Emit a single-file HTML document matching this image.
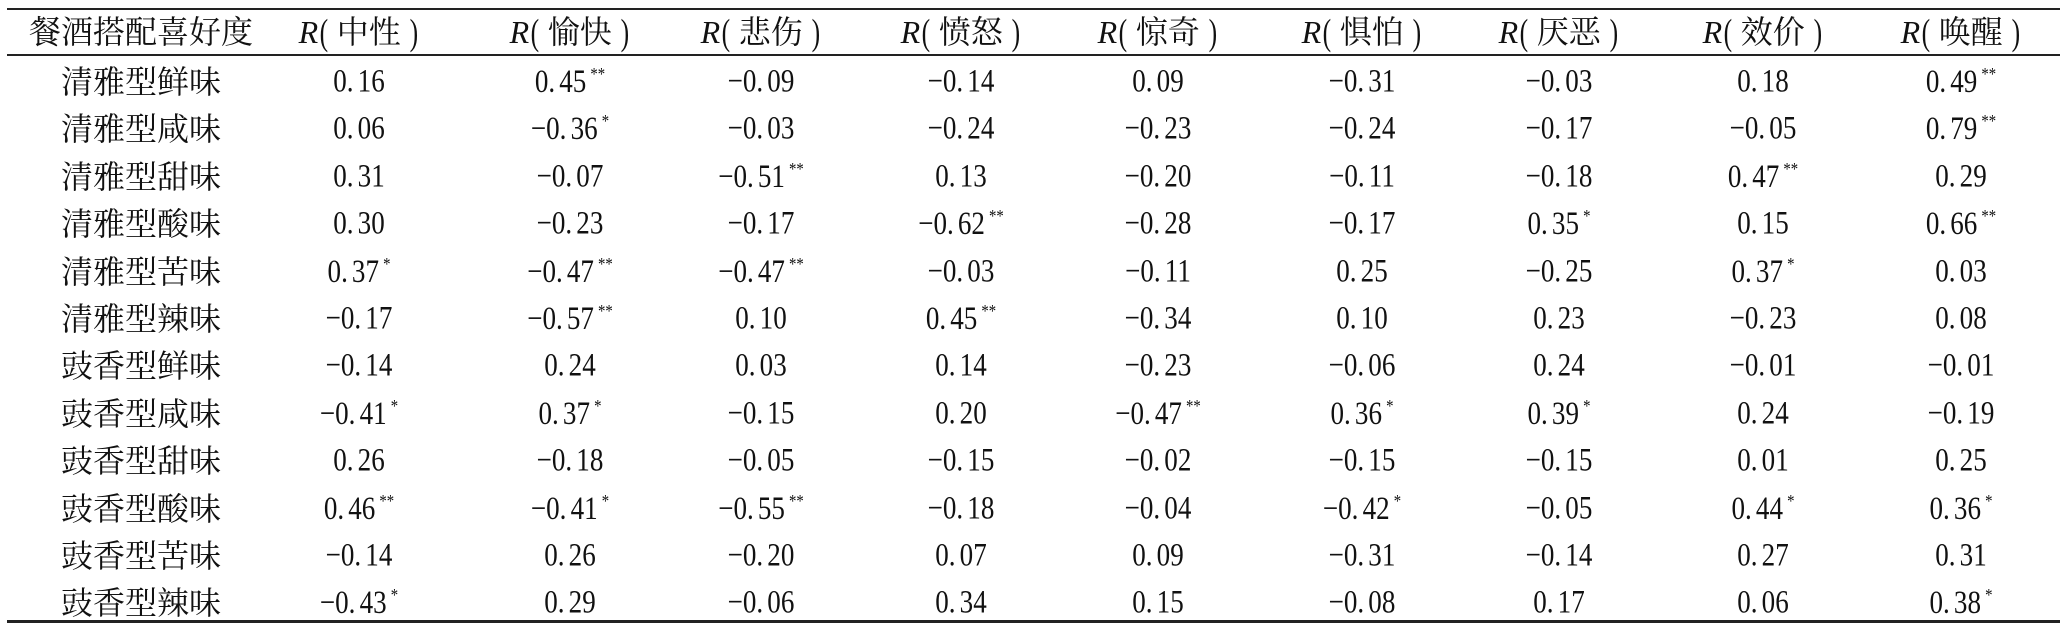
<!DOCTYPE html>
<html><head><meta charset="utf-8">
<style>
html,body{margin:0;padding:0;background:#fff;}
#wrap{position:relative;width:2064px;height:640px;overflow:hidden;font-family:"Liberation Serif","Noto Serif CJK SC",serif;color:#111;}
.rule{position:absolute;left:7px;width:2053px;background:#222;}
.cell{position:absolute;transform:translate(-50%,-50%);white-space:nowrap;font-size:32px;line-height:1;}
.num{transform:translate(-50%,-50%) scale(0.82,1);font-size:33px;}
.dot{margin-right:5px;}
.star{font-size:18px;vertical-align:12px;margin-left:5px;}
i{font-style:italic;}
.hd .p{display:inline-block;transform:scale(0.8,1.15);}
</style></head>
<body>
<div id="wrap">
  <div class="rule" style="top:8px;height:2px"></div>
  <div class="rule" style="top:54px;height:2px"></div>
  <div class="rule" style="top:620px;height:3px"></div>
</div>
<script>
const headers=["餐酒搭配喜好度","中性","愉快","悲伤","愤怒","惊奇","惧怕","厌恶","效价","唤醒"];
const rowLabels=["清雅型鲜味","清雅型咸味","清雅型甜味","清雅型酸味","清雅型苦味","清雅型辣味","豉香型鲜味","豉香型咸味","豉香型甜味","豉香型酸味","豉香型苦味","豉香型辣味"];
const values=[
["0.16","0.45**","−0.09","−0.14","0.09","−0.31","−0.03","0.18","0.49**"],
["0.06","−0.36*","−0.03","−0.24","−0.23","−0.24","−0.17","−0.05","0.79**"],
["0.31","−0.07","−0.51**","0.13","−0.20","−0.11","−0.18","0.47**","0.29"],
["0.30","−0.23","−0.17","−0.62**","−0.28","−0.17","0.35*","0.15","0.66**"],
["0.37*","−0.47**","−0.47**","−0.03","−0.11","0.25","−0.25","0.37*","0.03"],
["−0.17","−0.57**","0.10","0.45**","−0.34","0.10","0.23","−0.23","0.08"],
["−0.14","0.24","0.03","0.14","−0.23","−0.06","0.24","−0.01","−0.01"],
["−0.41*","0.37*","−0.15","0.20","−0.47**","0.36*","0.39*","0.24","−0.19"],
["0.26","−0.18","−0.05","−0.15","−0.02","−0.15","−0.15","0.01","0.25"],
["0.46**","−0.41*","−0.55**","−0.18","−0.04","−0.42*","−0.05","0.44*","0.36*"],
["−0.14","0.26","−0.20","0.07","0.09","−0.31","−0.14","0.27","0.31"],
["−0.43*","0.29","−0.06","0.34","0.15","−0.08","0.17","0.06","0.38*"]];
const colX=[141,359,570,761,961,1158,1362,1559,1763,1961];
const headerY=32, row0Y=82, rowH=47.4;
const wrap=document.getElementById('wrap');
headers.forEach((h,i)=>{
  const d=document.createElement('div');
  d.className='cell hd';
  
  
  d.style.left=colX[i]+'px';d.style.top=headerY+'px';
  if(i===0){d.textContent=h;}else{d.innerHTML='<i>R</i><span class="p">(</span> '+h+' <span class="p">)</span>';}
  wrap.appendChild(d);
});
rowLabels.forEach((r,j)=>{
  const y=row0Y+j*rowH;
  const d=document.createElement('div');
  d.className='cell';
  
  
  d.style.left=colX[0]+'px';d.style.top=y+'px';
  d.textContent=r;
  wrap.appendChild(d);
  values[j].forEach((v,k)=>{
    const c=document.createElement('div');
    c.className='cell num';
    
    
    c.style.left=colX[k+1]+'px';c.style.top=y+'px';
    const m=v.match(/^([^.]+)\.(\d+)(\**)$/);
    const a=document.createElement('span');a.className='dot';a.textContent=m[1]+'.';
    c.appendChild(a);
    c.appendChild(document.createTextNode(m[2]));
    if(m[3]){const s=document.createElement('span');s.className='star';
      
      
      s.textContent=m[3];c.appendChild(s);}
    wrap.appendChild(c);
  });
});
</script>
</body></html>
